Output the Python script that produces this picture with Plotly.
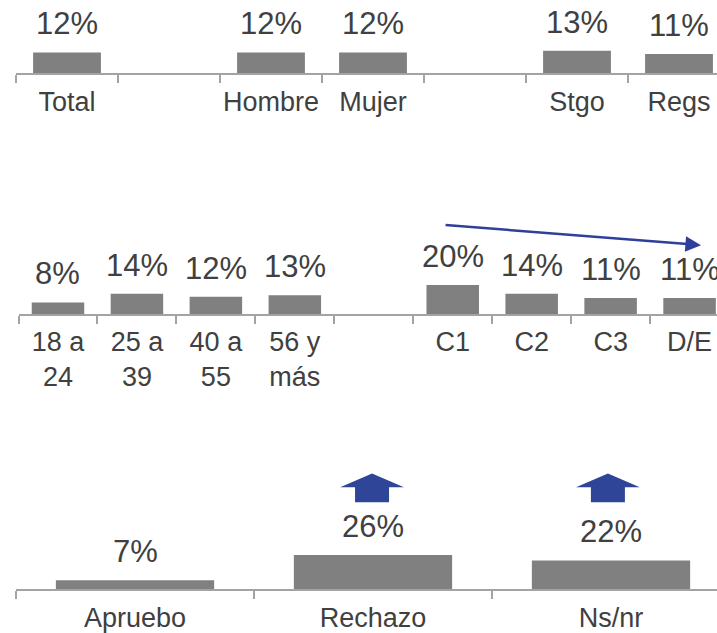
import plotly.graph_objects as go

# ---- data ----
cats1 = ["Total", "", "Hombre", "Mujer", "", "Stgo", "Regs"]
vals1 = [12, None, 12, 12, None, 13, 11]

cats2 = ["18 a<br>24", "25 a<br>39", "40 a<br>55", "56 y<br>más", "", "C1", "C2", "C3", "D/E"]
vals2 = [8, 14, 12, 13, None, 20, 14, 11, 11]

cats3 = ["Apruebo", "Rechazo", "Ns/nr"]
vals3 = [7, 26, 22]

# ---- style ----
W, H = 717, 633
FONT = "Liberation Sans, Arial, sans-serif"
BAR = "#808080"
AX = "#A3A3A3"
TXT = "#404040"
BLUE = "#2F3F9C"
BLOCK = "#2E4598"

fig = go.Figure()

rows = [
    # cats, vals, axis suffix, x domain start px, category width px, y axis px, y top px, px per %
    (cats1, vals1, "", 16, 102.0, 74, 0, 1.76),
    (cats2, vals2, "2", 18.5, 78.95, 317, 200, 1.46),
    (cats3, vals3, "3", 16, 238.0, 595, 460, 1.33),
]

layout_axes = {}
annotations = []
for cats, vals, s, x0px, cw, yax, ytop, ppp in rows:
    n = len(cats)
    xs = list(range(n))
    fig.add_trace(go.Bar(
        x=xs, y=vals, width=0.665, marker=dict(color=BAR, line=dict(width=0)),
        xaxis="x" + s, yaxis="y" + s, showlegend=False, hoverinfo="skip",
    ))
    xr = [-0.5, -0.5 + (W - x0px) / cw]
    yr = [0, (yax - ytop) / ppp]
    layout_axes["xaxis" + s] = dict(
        domain=[x0px / W, 1], range=xr, anchor="y" + s,
        tickmode="array", tickvals=xs, ticktext=cats, ticks="",
        showline=True, linecolor=AX, linewidth=2, showgrid=False, zeroline=False,
        tickfont=dict(size=27, color=TXT, family=FONT),
        ticklabelstandoff=3,
        minor=dict(tickmode="array", tickvals=[i - 0.5 for i in range(n + 1)],
                   ticks="outside", ticklen=8, tickwidth=2, tickcolor=AX, showgrid=False),
        fixedrange=True,
    )
    layout_axes["yaxis" + s] = dict(
        domain=[(H - yax) / H, (H - ytop) / H], range=yr, anchor="x" + s,
        visible=False, showgrid=False, zeroline=False, fixedrange=True,
    )
    for i, v in enumerate(vals):
        if v is None:
            continue
        annotations.append(dict(
            x=i, y=v, xref="x" + s, yref="y" + s, text=f"{v}%", showarrow=False,
            yanchor="bottom", xanchor="center", yshift=9,
            font=dict(size=31, color=TXT, family=FONT),
        ))

# trend arrow over socioeconomic groups (C1 -> D/E)
annotations.append(dict(
    x=8.145, y=47.6, xref="x2", yref="y2",
    ax=4.89, ay=61.6, axref="x2", ayref="y2",
    text="", showarrow=True, arrowhead=2, arrowsize=1.25, arrowwidth=2.5,
    arrowcolor=BLUE, standoff=0, startstandoff=0,
))

# block "up" arrows over Rechazo and Ns/nr
shapes = []
arrow_centers = [1 - 0.004, 2 - 0.013]
head_half, stem_half = 0.134, 0.0714
apex_y, base_y, stem_bottom = 88.0, 77.5, 66.2
for c in arrow_centers:
    path = (f"M {c - stem_half} {stem_bottom} L {c + stem_half} {stem_bottom} "
            f"L {c + stem_half} {base_y} L {c + head_half} {base_y} L {c} {apex_y} "
            f"L {c - head_half} {base_y} L {c - stem_half} {base_y} Z")
    shapes.append(dict(type="path", path=path, xref="x3", yref="y3",
                       fillcolor=BLOCK, line=dict(width=0)))

fig.update_layout(
    width=W, height=H, margin=dict(l=0, r=0, t=0, b=0),
    paper_bgcolor="white", plot_bgcolor="white",
    font=dict(family=FONT, color=TXT),
    annotations=annotations, shapes=shapes, bargap=0.335,
    **layout_axes,
)

fig.write_html(
    "out.html",
    config={"displayModeBar": False, "staticPlot": True},
    post_script="document.body.style.margin='0';document.body.style.overflow='hidden';",
)
